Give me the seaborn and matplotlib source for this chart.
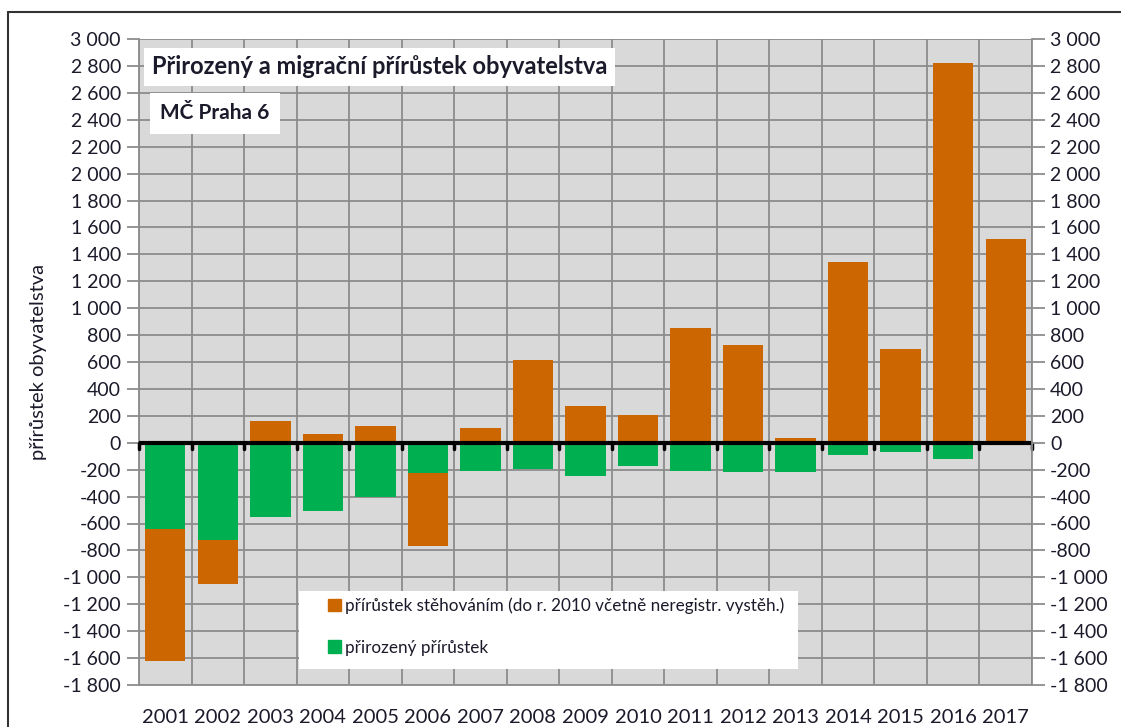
import matplotlib
matplotlib.use("Agg")
import matplotlib.pyplot as plt
import matplotlib.patches as mpatches
from matplotlib.lines import Line2D
import numpy as np
import pandas as pd
import seaborn as sns

# data
years = [str(y) for y in range(2001, 2018)]
natural = [-640, -720, -550, -505, -400, -225, -213, -197, -245, -176,
           -210, -218, -218, -89, -69, -119, -20]
migration = [-980, -330, 161, 62, 121, -540, 106, 613, 275, 206,
             854, 728, 39, 1346, 695, 2823, 1517]

title = "Přirozený a migrační přírůstek obyvatelstva"
subtitle = "MČ Praha 6"
ylabel = "přírůstek obyvatelstva"
label_mig = "přírůstek stěhováním (do r. 2010 včetně neregistr. vystěh.)"
label_nat = "přirozený přírůstek"
yticks = list(range(-1800, 3001, 200))

col_mig = "#CC6600"
col_nat = "#00B050"
col_grid = "#8C8C8C"
col_bg = "#D9D9D9"
col_text = "#1a1a2a"

df = pd.DataFrame({"year": years, "natural": natural, "migration": migration})
# negative migration is stacked below negative natural increase
df["mig_bottom"] = np.where((df["migration"] < 0) & (df["natural"] < 0), df["natural"], 0)

sns.set_theme(style="white")
plt.rcParams["font.family"] = ["Lato", "DejaVu Sans"]

fig = plt.figure(figsize=(11.21, 7.27), dpi=100)
ax = fig.add_axes([139 / 1121, 1 - 685 / 727, (1032 - 139) / 1121, (685 - 39) / 727])
ax.set_facecolor(col_bg)

# grid: horizontal every 200, vertical at category boundaries
for v in yticks:
    ax.axhline(v, color=col_grid, lw=1.3, zorder=0)
for b in np.arange(-0.5, len(years), 1.0):
    ax.axvline(b, color=col_grid, lw=1.3, zorder=0)

bw = 0.77
sns.barplot(data=df, x="year", y="natural", color=col_nat, width=bw,
            saturation=1, ax=ax, zorder=2, linewidth=0)
ax.bar(np.arange(len(years)), df["migration"], bottom=df["mig_bottom"],
       width=bw, color=col_mig, zorder=2, linewidth=0)

ax.set_xlim(-0.5, len(years) - 0.5)
ax.set_ylim(-1800, 3000)

# zero line with downward ticks at boundaries
ax.axhline(0, color="black", lw=3, zorder=4)
for b in np.arange(-0.5, len(years), 1.0):
    ax.plot([b, b], [0, -45], color="black", lw=2.5, zorder=4, clip_on=False)

fmt = lambda v: f"{v:,}".replace(",", " ")
ax.set_yticks(yticks)
ax.set_yticklabels([fmt(v) for v in yticks], fontsize=14, color=col_text)
ax.tick_params(axis="y", direction="out", length=9, width=1.3, color=col_grid, pad=4, left=True)
ax.set_xticks(range(len(years)))
ax.set_xticklabels(years, fontsize=14.5, color=col_text)
ax.tick_params(axis="x", length=0, pad=17)
ax.set_xlabel("")
ax.set_ylabel(ylabel, fontsize=14.5, color=col_text, labelpad=12)

for s in ["top", "right"]:
    ax.spines[s].set_visible(False)
for s in ["left", "bottom"]:
    ax.spines[s].set_color(col_grid)
    ax.spines[s].set_linewidth(1.3)

ax2 = ax.twinx()
ax2.set_ylim(ax.get_ylim())
ax2.set_yticks(yticks)
ax2.set_yticklabels([fmt(v) for v in yticks], fontsize=14, color=col_text)
ax2.tick_params(axis="y", direction="out", length=9, width=1.3, color=col_grid, pad=4, right=True)
for s in ["top", "left", "bottom"]:
    ax2.spines[s].set_visible(False)
ax2.spines["right"].set_color(col_grid)
ax2.spines["right"].set_linewidth(1.3)

# title boxes
ax.text(0.0146, 0.957, title, transform=ax.transAxes, fontsize=17, fontweight="bold",
        color=col_text, va="center", ha="left", zorder=6,
        bbox=dict(facecolor="white", edgecolor="none", boxstyle="square,pad=0.32"))
ax.text(0.0235, 0.885, subtitle, transform=ax.transAxes, fontsize=15, fontweight="bold",
        color=col_text, va="center", ha="left", zorder=6,
        bbox=dict(facecolor="white", edgecolor="none", boxstyle="square,pad=0.5"))

# legend: white box drawn by hand, legend itself without frame
ax.add_patch(mpatches.Rectangle((0.179, 0.0248), 0.559, 0.1207, transform=ax.transAxes,
                                facecolor="white", edgecolor="none", zorder=5))
handles = [mpatches.Patch(color=col_mig, label=label_mig),
           mpatches.Patch(color=col_nat, label=label_nat)]
leg = ax.legend(handles=handles, loc="upper left", bbox_to_anchor=(0.2117, 0.1355),
                frameon=False, fontsize=12.3, handlelength=0.75,
                handleheight=0.75, handletextpad=0.25, borderpad=0, labelspacing=1.5,
                borderaxespad=0)
for t in leg.get_texts():
    t.set_color(col_text)
leg.set_zorder(6)

# outer chart border (top and left edges visible)
fig.add_artist(Line2D([8 / 1121, 1], [1 - 12 / 727, 1 - 12 / 727], color="#333333", lw=1.5))
fig.add_artist(Line2D([8 / 1121, 8 / 1121], [0, 1 - 12 / 727], color="#333333", lw=1.5))

fig.savefig("out.png", dpi=100)
